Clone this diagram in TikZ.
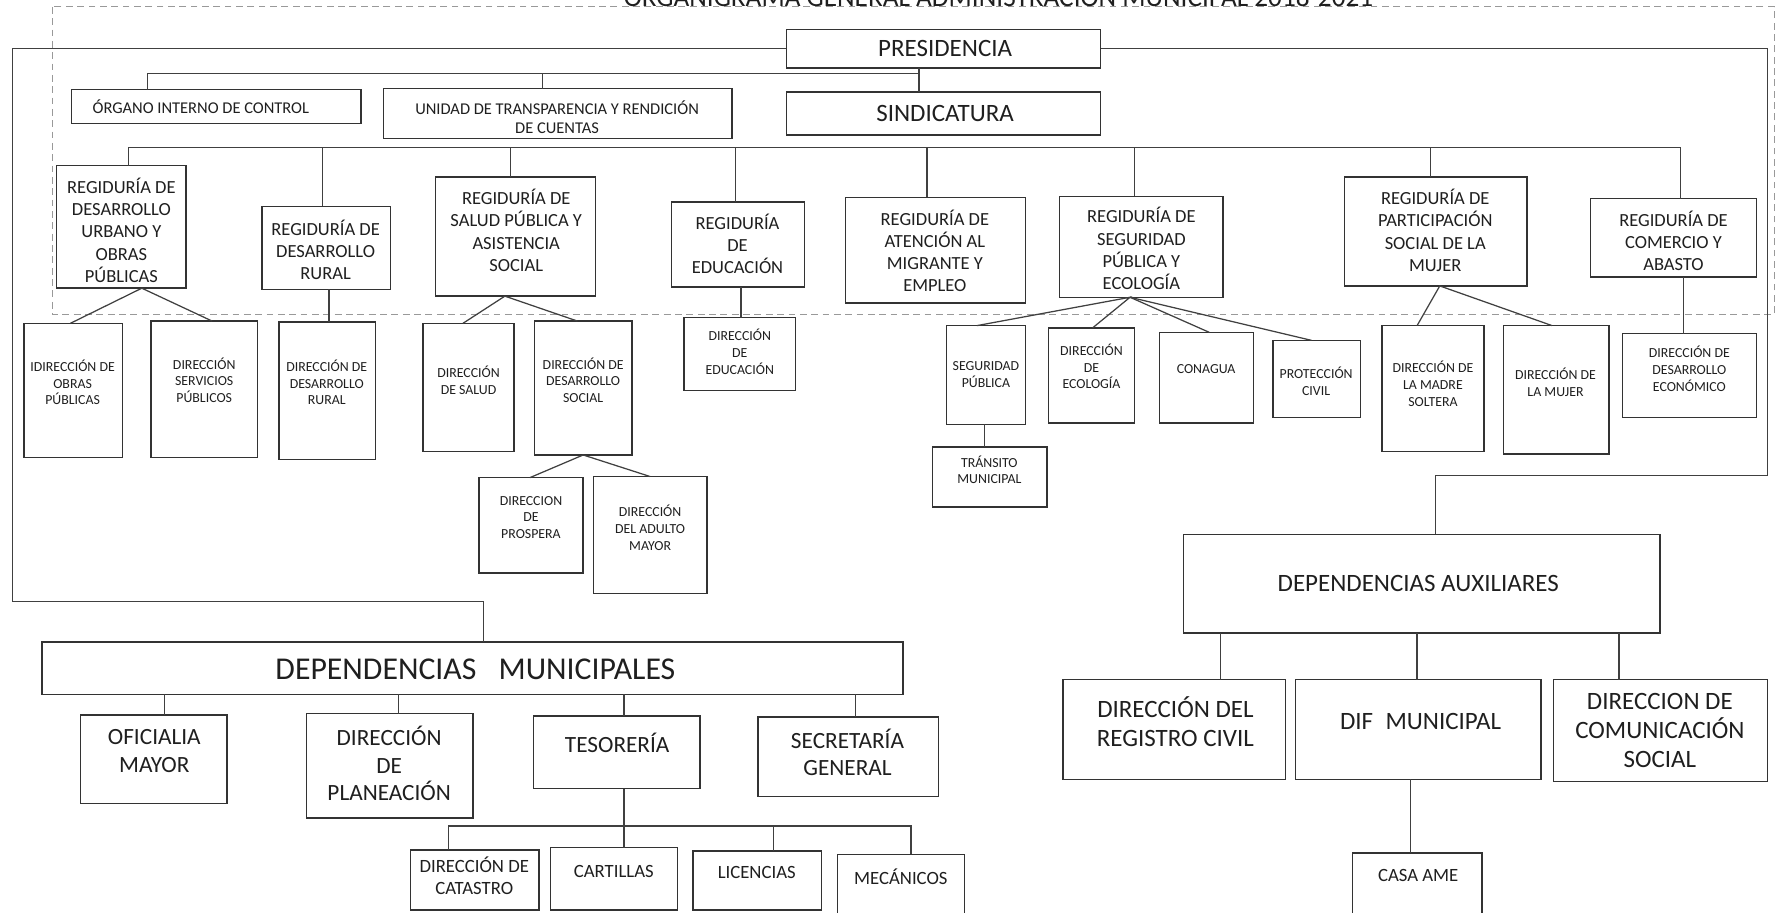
\documentclass[tikz,border=0pt]{standalone}
\usepackage{fontspec}
\setmainfont{Carlito}
\newcommand{\fsTitle}{\fontsize{24}{28}\selectfont}
\newcommand{\fsTop}{\fontsize{22}{26}\selectfont}
\newcommand{\fsUni}{\fontsize{14.5}{16.5}\selectfont}
\newcommand{\fsReg}{\fontsize{16.3}{19.5}\selectfont}
\newcommand{\fsDir}{\fontsize{12.2}{14.8}\selectfont}
\newcommand{\fsBig}{\fontsize{28}{32}\selectfont}
\newcommand{\fsMid}{\fontsize{20.5}{24}\selectfont}
\newcommand{\fsAux}{\fontsize{22}{25.5}\selectfont}
\newcommand{\fsSm}{\fontsize{16.5}{19.5}\selectfont}
% name, x1, y1, x2, y2, text x, text y, font, text
\newcommand{\bx}[9]{%
  \node[box, minimum width={(#4)-(#2)}, minimum height={(#5)-(#3)}] (#1) at ({((#2)+(#4))/2},{((#3)+(#5))/2}) {};
  \node[txt, font=#8] (#1t) at (#6,#7) {#9};
}
\begin{document}
\begin{tikzpicture}[x=1pt,y=-1pt,
  box/.style={draw=black!80, line width=1.3pt, inner sep=0pt, outer sep=0pt, fill=white},
  txt/.style={align=center, inner sep=0pt, text=black!88},
  conn/.style={draw=black!75, line width=1.1pt},
  frame/.style={draw=black!40, line width=1pt, dash pattern=on 6pt off 4pt}]
\useasboundingbox (0,0) rectangle (1568,804);
\draw[frame] (46,6) rectangle (1564,277);
\node[txt, font=\fsTitle, anchor=base] (title) at (880,6) {ORGANIGRAMA GENERAL ADMINISTRACIÓN MUNICIPAL 2018-2021};

% top level
\bx{pres}{693}{26}{970}{60}{833}{43}{\fsTop}{PRESIDENCIA}
\bx{sind}{693}{81}{970}{119}{833}{100}{\fsTop}{SINDICATURA}
\bx{org}{63}{79}{318}{109}{177}{94}{\fsUni}{ÓRGANO INTERNO DE CONTROL}
\bx{unid}{338}{78}{645}{122}{491}{103}{\fsUni}{UNIDAD DE TRANSPARENCIA Y RENDICIÓN\\DE CUENTAS}

% regidurias
\bx{r1}{50}{146}{164}{254}{107}{203}{\fsReg}{REGIDURÍA DE\\DESARROLLO\\URBANO Y\\OBRAS\\PÚBLICAS}
\bx{r2}{231}{182}{344}{255}{287}{220}{\fsReg}{REGIDURÍA DE\\DESARROLLO\\RURAL}
\bx{r3}{384}{156}{525}{261}{455}{203}{\fsReg}{REGIDURÍA DE\\SALUD PÚBLICA Y\\ASISTENCIA\\SOCIAL}
\bx{r4}{592}{178}{709}{253}{650}{215}{\fsReg}{REGIDURÍA\\DE\\EDUCACIÓN}
\bx{r5}{745}{174}{904}{267}{824}{221}{\fsReg}{REGIDURÍA DE\\ATENCIÓN AL\\MIGRANTE Y\\EMPLEO}
\bx{r6}{934}{173}{1078}{262}{1006}{219}{\fsReg}{REGIDURÍA DE\\SEGURIDAD\\PÚBLICA Y\\ECOLOGÍA}
\bx{r7}{1185}{156}{1346}{252}{1265}{203}{\fsReg}{REGIDURÍA DE\\PARTICIPACIÓN\\SOCIAL DE LA\\MUJER}
\bx{r8}{1402}{175}{1548}{244}{1475}{212}{\fsReg}{REGIDURÍA DE\\COMERCIO Y\\ABASTO}

% direcciones
\bx{d1}{21}{285}{108}{403}{64}{337}{\fsDir}{IDIRECCIÓN DE\\OBRAS\\PÚBLICAS}
\bx{d2}{133}{283}{227}{403}{180}{335}{\fsDir}{DIRECCIÓN\\SERVICIOS\\PÚBLICOS}
\bx{d3}{246}{284}{331}{405}{288}{337}{\fsDir}{DIRECCIÓN DE\\DESARROLLO\\RURAL}
\bx{d4}{373}{285}{453}{398}{413}{335}{\fsDir}{DIRECCIÓN\\DE SALUD}
\bx{d5}{471}{283}{557}{401}{514}{335}{\fsDir}{DIRECCIÓN DE\\DESARROLLO\\SOCIAL}
\bx{d6}{603}{280}{701}{344}{652}{310}{\fsDir}{DIRECCIÓN\\DE\\EDUCACIÓN}
\bx{d7}{422}{421}{514}{505}{468}{456}{\fsDir}{DIRECCION\\DE\\PROSPERA}
\bx{d8}{523}{420}{623}{523}{573}{465}{\fsDir}{DIRECCIÓN\\DEL ADULTO\\MAYOR}
\bx{s1}{834}{287}{904}{374}{869}{330}{\fsDir}{SEGURIDAD\\PÚBLICA}
\bx{s2}{924}{289}{1000}{373}{962}{323}{\fsDir}{DIRECCIÓN\\DE\\ECOLOGÍA}
\bx{s3}{1022}{293}{1105}{373}{1063}{325}{\fsDir}{CONAGUA}
\bx{s4}{1122}{300}{1199}{368}{1160}{336}{\fsDir}{PROTECCIÓN\\CIVIL}
\bx{t1}{822}{394}{923}{447}{872}{414}{\fsDir}{TRÁNSITO\\MUNICIPAL}
\bx{m1}{1218}{287}{1308}{398}{1263}{338}{\fsDir}{DIRECCIÓN DE\\LA MADRE\\SOLTERA}
\bx{m2}{1325}{287}{1418}{400}{1371}{337}{\fsDir}{DIRECCIÓN DE\\LA MUJER}
\bx{e1}{1430}{294}{1548}{368}{1489}{325}{\fsDir}{DIRECCIÓN DE\\DESARROLLO\\ECONÓMICO}

% dependencias municipales
\bx{dm}{37}{566}{796}{612}{419}{590}{\fsBig}{DEPENDENCIAS\hspace{0.7em}MUNICIPALES}
\bx{of}{71}{630}{200}{708}{136}{662}{\fsMid}{OFICIALIA\\MAYOR}
\bx{pl}{270}{629}{417}{721}{343}{673}{\fsMid}{DIRECCIÓN\\DE\\PLANEACIÓN}
\bx{te}{470}{631}{617}{695}{544}{655}{\fsMid}{TESORERÍA}
\bx{se}{668}{632}{827}{702}{747}{663}{\fsMid}{SECRETARÍA\\GENERAL}
\bx{ca}{362}{749}{475}{802}{418}{772}{\fsSm}{DIRECCIÓN DE\\CATASTRO}
\bx{cr}{485}{747}{597}{802}{541}{768}{\fsSm}{CARTILLAS}
\bx{li}{611}{750}{724}{802}{667}{769}{\fsSm}{LICENCIAS}
\bx{me}{738}{753}{850}{812}{794}{773}{\fsSm}{MECÁNICOS}

% dependencias auxiliares
\bx{da}{1043}{471}{1463}{558}{1250}{514}{\fsAux}{DEPENDENCIAS AUXILIARES}
\bx{rc}{937}{599}{1133}{687}{1036}{636}{\fsAux}{DIRECCIÓN DEL\\REGISTRO CIVIL}
\bx{dif}{1142}{599}{1358}{687}{1252}{636}{\fsAux}{DIF\hspace{0.5em}MUNICIPAL}
\bx{cs}{1369}{599}{1558}{689}{1463}{644}{\fsAux}{DIRECCION DE\\COMUNICACIÓN\\SOCIAL}
\bx{am}{1192}{752}{1306}{815}{1250}{772}{\fsSm}{CASA AME}

% connectors: top
\draw[conn] (pres.west) -| (11,530) -| (426,0 |- dm.north);
\draw[conn] (pres.east) -| (1558,419) -| (1265,0 |- da.north);
\draw[conn] (810,0 |- pres.south) -- (810,0 |- sind.north);
\draw[conn] (130,0 |- org.north) |- (810,65);
\draw[conn] (478,65) -- (478,0 |- unid.north);

% regiduria bus
\draw[conn] (113,130) -- (1482,130);
\foreach \n/\x in {r1/113, r2/284, r3/450, r4/648, r5/817, r6/1000, r7/1261, r8/1481}
  \draw[conn] (\x,130) -- (\x,0 |- \n.north);

% fans
\draw[conn] (62,0 |- d1.north) -- (125,0 |- r1.south) -- (187,0 |- d2.north);
\draw[conn] (290,0 |- r2.south) -- (290,0 |- d3.north);
\draw[conn] (408,0 |- d4.north) -- (445,0 |- r3.south) -- (509,0 |- d5.north);
\draw[conn] (653,0 |- r4.south) -- (653,0 |- d6.north);
\draw[conn] (861,0 |- s1.north) -- (996,0 |- r6.south) -- (963,0 |- s2.north);
\draw[conn] (996,0 |- r6.south) -- (1066,0 |- s3.north);
\draw[conn] (996,0 |- r6.south) -- (1156,0 |- s4.north);
\draw[conn] (868,0 |- s1.south) -- (868,0 |- t1.north);
\draw[conn] (1249,0 |- m1.north) -- (1269,0 |- r7.south) -- (1368,0 |- m2.north);
\draw[conn] (1484,0 |- r8.south) -- (1484,0 |- e1.north);
\draw[conn] (467,0 |- d7.north) -- (514,0 |- d5.south) -- (573,0 |- d8.north);

% dependencias municipales children
\foreach \n/\x in {of/145, pl/351, te/550, se/754}
  \draw[conn] (\x,0 |- dm.south) -- (\x,0 |- \n.north);
\draw[conn] (550,0 |- te.south) -- (550,728);
\draw[conn] (395,0 |- ca.north) |- (803,728) -- (803,0 |- me.north);
\draw[conn] (550,728) -- (550,0 |- cr.north);
\draw[conn] (682,728) -- (682,0 |- li.north);

% dependencias auxiliares children
\foreach \n/\x in {rc/1076, dif/1249, cs/1427}
  \draw[conn] (\x,0 |- da.south) -- (\x,0 |- \n.north);
\draw[conn] (1243,0 |- dif.south) -- (1243,0 |- am.north);
\end{tikzpicture}
\end{document}
